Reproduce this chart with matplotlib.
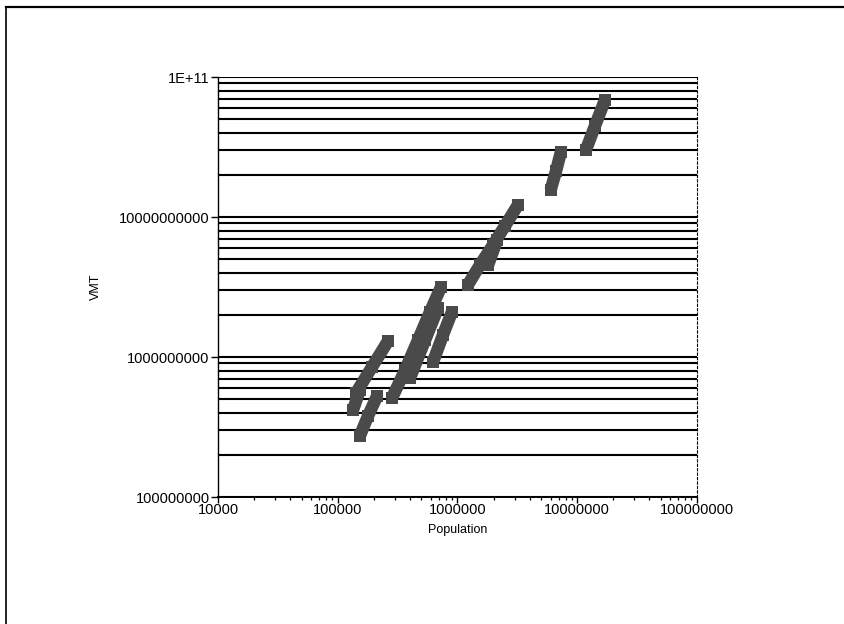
import matplotlib
matplotlib.use("Agg")
import matplotlib.pyplot as plt
from matplotlib.ticker import LogLocator, FixedLocator, FixedFormatter, NullFormatter
from matplotlib.lines import Line2D

# Population / VMT observations, one short run of years per urban area
area_a_pop = [1.18e7, 1.41e7, 1.71e7]
area_a_vmt = [3.0e10, 4.5e10, 6.9e10]

area_b_pop = [6.0e6, 6.65e6, 7.3e6]
area_b_vmt = [1.56e10, 2.13e10, 2.9e10]

area_c_pop = [1.22e6, 1.54e6, 1.98e6, 2.49e6, 3.2e6]
area_c_vmt = [3.27e9, 4.54e9, 6.31e9, 8.63e9, 1.22e10]

area_d_pop = [1.8e6, 2.14e6]
area_d_vmt = [4.54e9, 6.85e9]

area_e_pop = [2.84e5, 3.65e5, 4.68e5, 5.89e5, 7.28e5]
area_e_vmt = [5.1e8, 8.07e8, 1.32e9, 2.1e9, 3.16e9]

area_f_pop = [4.01e5, 5.36e5, 6.87e5]
area_f_vmt = [7.08e8, 1.32e9, 2.24e9]

area_g_pop = [6.24e5, 7.57e5, 8.99e5]
area_g_vmt = [9.2e8, 1.44e9, 2.1e9]

area_h_pop = [1.42e5, 1.93e5, 2.63e5]
area_h_vmt = [5.53e8, 8.48e8, 1.3e9]

area_i_pop = [1.53e5, 1.79e5, 2.13e5]
area_i_vmt = [2.73e8, 3.79e8, 5.26e8]

area_j_pop = [1.34e5, 1.53e5]
area_j_vmt = [4.18e8, 5.81e8]

x_ticks = [1e4, 1e5, 1e6, 1e7, 1e8]
x_tick_labels = ["10000", "100000", "1000000", "10000000", "100000000"]
y_ticks = [1e8, 1e9, 1e10, 1e11]
y_tick_labels = ["100000000", "1000000000", "10000000000", "1E+11"]

series = [
    (area_a_pop, area_a_vmt), (area_b_pop, area_b_vmt),
    (area_c_pop, area_c_vmt), (area_d_pop, area_d_vmt),
    (area_e_pop, area_e_vmt), (area_f_pop, area_f_vmt),
    (area_g_pop, area_g_vmt), (area_h_pop, area_h_vmt),
    (area_i_pop, area_i_vmt), (area_j_pop, area_j_vmt),
]

plt.rcParams["font.family"] = ["Liberation Sans", "DejaVu Sans"]

fig = plt.figure(figsize=(8.44, 6.24), dpi=100)
ax = fig.add_axes([0.2583, 0.2035, 0.5675, 0.6731])

ax.set_xscale("log")
ax.set_yscale("log")
ax.set_xlim(1e4, 1e8)
ax.set_ylim(1e8, 1e11)

# horizontal rules at every major and minor decade step
ax.yaxis.set_minor_locator(LogLocator(base=10, subs=range(2, 10)))
ax.yaxis.set_minor_formatter(NullFormatter())
ax.yaxis.grid(True, which="both", color="black", linewidth=1.5)
ax.xaxis.grid(False)
ax.set_axisbelow(True)

for pop, vmt in series:
    ax.plot(pop, vmt, color="#4a4a4a", linewidth=9,
            solid_capstyle="butt", marker="s", markersize=8.5,
            markeredgewidth=0, zorder=3)

ax.xaxis.set_major_locator(FixedLocator(x_ticks))
ax.xaxis.set_major_formatter(FixedFormatter(x_tick_labels))
ax.xaxis.set_minor_locator(LogLocator(base=10, subs=range(2, 10)))
ax.xaxis.set_minor_formatter(NullFormatter())
ax.yaxis.set_major_locator(FixedLocator(y_ticks))
ax.yaxis.set_major_formatter(FixedFormatter(y_tick_labels))

ax.tick_params(axis="x", which="major", direction="out", length=4,
               width=1, labelsize=10.5, pad=0, colors="black")
ax.tick_params(axis="x", which="minor", direction="out", length=2.5,
               width=0.9)
ax.tick_params(axis="y", which="major", direction="out", length=5,
               width=1, labelsize=10.5, pad=1)
ax.tick_params(axis="y", which="minor", length=0)

ax.set_xlabel("Population", fontsize=9, labelpad=5)
ax.set_ylabel("VMT", fontsize=9, labelpad=12)

ax.spines["top"].set_visible(False)
ax.spines["right"].set_linestyle((0, (2, 2)))
ax.spines["right"].set_linewidth(0.8)
ax.spines["left"].set_linewidth(1.0)
ax.spines["bottom"].set_linewidth(1.4)

# outer frame around the chart area (left and top edges)
fig.add_artist(Line2D([0.0075, 0.0075], [0.0, 0.989], color="black",
                      linewidth=1.2, transform=fig.transFigure))
fig.add_artist(Line2D([0.0075, 1.0], [0.989, 0.989], color="black",
                      linewidth=1.6, transform=fig.transFigure))

fig.savefig("out.png", dpi=100, facecolor="white")
